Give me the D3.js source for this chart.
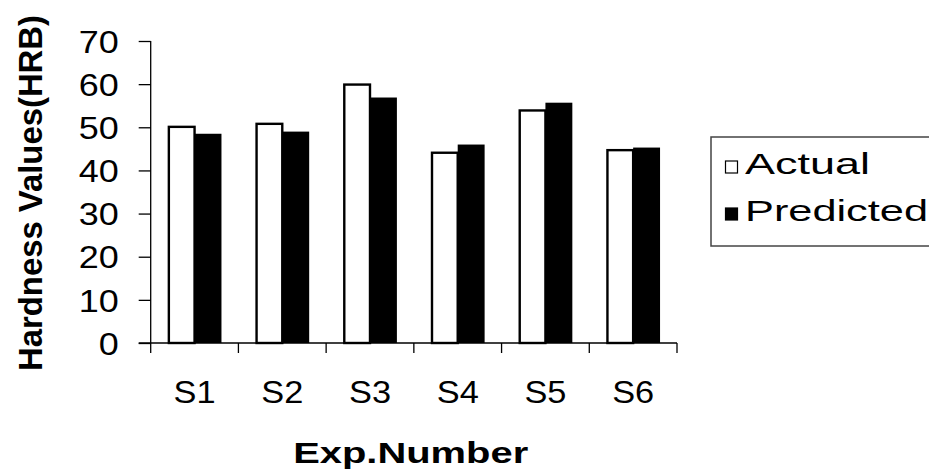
<!DOCTYPE html>
<html>
<head>
<meta charset="utf-8">
<script src="https://cdn.jsdelivr.net/npm/d3@7"></script>
<style>
  html, body { margin: 0; padding: 0; background: #fff; }
  svg { display: block; }
  text { font-family: "Liberation Sans", Arial, sans-serif; fill: #000; }
</style>
</head>
<body>
<div id="chart"></div>
<script>
const categories = ["S1", "S2", "S3", "S4", "S5", "S6"];
const seriesNames = ["Actual", "Predicted"];
const actualValues = [50.1, 50.8, 59.9, 44.1, 53.9, 44.7];
const predictedValues = [48.5, 49.0, 56.9, 46.0, 55.7, 45.3];
const yTicks = [0, 10, 20, 30, 40, 50, 60, 70];

const W = 929, H = 470;
const svg = d3.select("#chart").append("svg").attr("width", W).attr("height", H);

const x0 = 150.7, x1 = 677, yBase = 343, yTop = 41;
const x = d3.scaleBand().domain(categories).range([x0, x1]).paddingInner(0).paddingOuter(0);
const xs = d3.scaleBand().domain(seriesNames).range([0, x.bandwidth()]).paddingInner(0).paddingOuter(0.63);
const y = d3.scaleLinear().domain([0, 70]).range([yBase, yTop]);

const rows = categories.map((c, i) => ({ cat: c, vals: [actualValues[i], predictedValues[i]] }));

// bars
const g = svg.append("g");
rows.forEach(r => {
  r.vals.forEach((v, j) => {
    const name = seriesNames[j];
    const bx = x(r.cat) + xs(name);
    if (j === 0) {
      g.append("rect")
        .attr("x", bx + 1.2).attr("y", y(v))
        .attr("width", xs.bandwidth() - 1.2).attr("height", yBase - y(v))
        .attr("fill", "#fff").attr("stroke", "#000").attr("stroke-width", 2.4);
    } else {
      g.append("rect")
        .attr("x", bx).attr("y", y(v))
        .attr("width", xs.bandwidth()).attr("height", yBase - y(v))
        .attr("fill", "#000");
    }
  });
});

// y axis
const yAxis = d3.axisLeft(y).tickValues(yTicks).tickSize(12).tickPadding(20).tickFormat(d3.format("d"));
const ya = svg.append("g").attr("transform", `translate(${x0},0)`).call(yAxis);
ya.select(".domain").attr("stroke", "#000").attr("stroke-width", 1.3).attr("d", `M0,${yTop}V${yBase + 10}`);
ya.selectAll(".tick line").attr("stroke", "#000").attr("stroke-width", 1.3);
ya.selectAll(".tick text")
  .attr("font-size", 31).attr("font-family", "Liberation Sans, Arial, sans-serif").attr("fill", "#000")
  .attr("dy", "0.36em")
  .each(function(d) {
    const s = String(d);
    d3.select(this).attr("textLength", s.length * 20).attr("lengthAdjust", "spacingAndGlyphs");
  });

// x axis
const xAxis = d3.axisBottom(x).tickSize(0).tickPadding(0);
const xa = svg.append("g").attr("transform", `translate(0,${yBase})`).call(xAxis);
xa.select(".domain").attr("stroke", "#000").attr("stroke-width", 1.3).attr("d", `M${x0 - 12},0H${x1}`);
xa.selectAll(".tick line").remove();
xa.selectAll(".tick text")
  .attr("font-size", 32).attr("font-family", "Liberation Sans, Arial, sans-serif").attr("fill", "#000")
  .attr("y", 59.7).attr("dy", 0)
  .attr("textLength", 42).attr("lengthAdjust", "spacingAndGlyphs");
// category separator ticks
const sepG = svg.append("g");
categories.forEach((c, i) => {
  const sx = x(c) + x.bandwidth();
  sepG.append("line").attr("x1", sx).attr("x2", sx).attr("y1", yBase).attr("y2", yBase + 10)
    .attr("stroke", "#000").attr("stroke-width", 1.3);
});

// axis titles
svg.append("text")
  .attr("x", 410.7).attr("y", 463)
  .attr("text-anchor", "middle")
  .attr("font-size", 30).attr("font-weight", "bold")
  .attr("textLength", 235).attr("lengthAdjust", "spacingAndGlyphs")
  .text("Exp.Number");

svg.append("text")
  .attr("transform", "translate(42,193) rotate(-90)")
  .attr("text-anchor", "middle")
  .attr("font-size", 34).attr("font-weight", "bold")
  .attr("textLength", 356).attr("lengthAdjust", "spacingAndGlyphs")
  .text("Hardness Values(HRB)");

// legend
const lg = svg.append("g");
lg.append("rect").attr("x", 711).attr("y", 137).attr("width", 240).attr("height", 109)
  .attr("fill", "#fff").attr("stroke", "#444").attr("stroke-width", 1.5);
const legendY = [167, 214];
const legendTextW = [125, 183];
seriesNames.forEach((n, i) => {
  const cy = legendY[i];
  lg.append("rect").attr("x", 725.5).attr("y", cy - 6).attr("width", 12).attr("height", 12)
    .attr("fill", i === 0 ? "#fff" : "#000").attr("stroke", "#000").attr("stroke-width", 1.2);
  lg.append("text").attr("x", 745).attr("y", cy + 6.5)
    .attr("font-size", 29)
    .attr("textLength", legendTextW[i]).attr("lengthAdjust", "spacingAndGlyphs")
    .text(n);
});
</script>
</body>
</html>
